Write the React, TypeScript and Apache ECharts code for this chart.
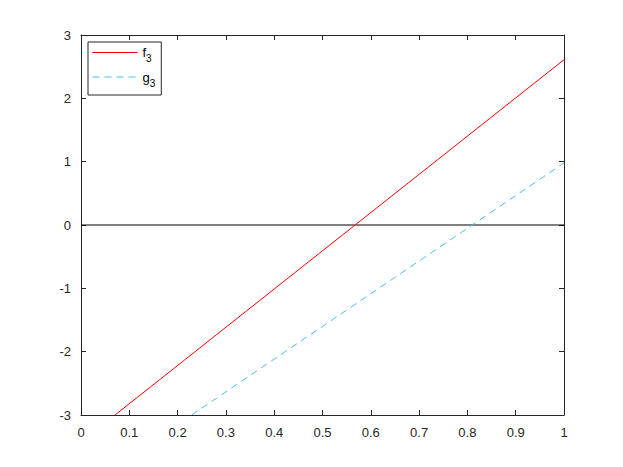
import React, { useEffect, useRef } from "react";
import * as echarts from "echarts";

const seriesNames = ["f3", "g3"];
// endpoints (clipped at the axes box)
const f3Points: [number, number][] = [
  [0.0704, -3],
  [1, 2.61],
];
const g3Points: [number, number][] = [
  [0.229, -3],
  [1, 0.98],
];
const zeroLine: [number, number][] = [
  [0, 0],
  [1, 0],
];
const xTicks = [0, 0.1, 0.2, 0.3, 0.4, 0.5, 0.6, 0.7, 0.8, 0.9, 1];
const yTicks = [-3, -2, -1, 0, 1, 2, 3];

const AX = "#262626";
const FONT = "Liberation Sans, Arial, Helvetica, sans-serif";

export default function App() {
  const ref = useRef<HTMLDivElement>(null);
  useEffect(() => {
    if (!ref.current) return;
    const chart = echarts.init(ref.current, undefined, { renderer: "svg" });
    const axisCommon = {
      type: "value" as const,
      axisLine: { show: true, onZero: false, lineStyle: { color: AX, width: 1 } },
      axisTick: { show: true, inside: true, length: 5, lineStyle: { color: AX } },
      splitLine: { show: false },
    };
    const labelStyle = { color: AX, fontSize: 13, fontFamily: FONT };
    chart.setOption({
      animation: false,
      backgroundColor: "#ffffff",
      textStyle: { fontFamily: FONT },
      grid: { left: 81, right: 59, top: 35, bottom: 52, containLabel: false },
      xAxis: [
        {
          ...axisCommon,
          position: "bottom",
          min: xTicks[0],
          max: xTicks[xTicks.length - 1],
          interval: 0.1,
          axisLabel: {
            ...labelStyle,
            margin: 11,
            formatter: (v: number) => String(Math.round(v * 10) / 10),
          },
        },
        {
          ...axisCommon,
          position: "top",
          min: xTicks[0],
          max: xTicks[xTicks.length - 1],
          interval: 0.1,
          axisLabel: { show: false },
        },
      ],
      yAxis: [
        {
          ...axisCommon,
          position: "left",
          min: yTicks[0],
          max: yTicks[yTicks.length - 1],
          interval: 1,
          axisLabel: { ...labelStyle, margin: 10 },
        },
        {
          ...axisCommon,
          position: "right",
          min: yTicks[0],
          max: yTicks[yTicks.length - 1],
          interval: 1,
          axisLabel: { show: false },
        },
      ],
      legend: {
        data: seriesNames,
        orient: "vertical",
        left: 88,
        top: 42,
        backgroundColor: "#ffffff",
        borderColor: AX,
        borderWidth: 1,
        borderRadius: 0,
        padding: [4, 6, 7, 4],
        itemGap: 7,
        itemWidth: 45,
        itemHeight: 16,
        itemStyle: { opacity: 0 },
        lineStyle: { width: 1 },
        textStyle: {
          color: "#000",
          fontFamily: FONT,
          fontSize: 13,
          rich: {
            a: { fontSize: 13, fontFamily: FONT, color: "#000" },
            b: { fontSize: 10, fontFamily: FONT, color: "#000", padding: [12, 0, 0, 0] },
          },
        },
        formatter: (name: string) => `{a|${name.charAt(0)}}{b|${name.slice(1)}}`,
      },
      series: [
        {
          name: "zero",
          type: "line",
          data: zeroLine,
          symbol: "none",
          lineStyle: { color: "#000000", width: 1 },
          silent: true,
        },
        {
          name: "f3",
          type: "line",
          data: f3Points,
          symbol: "none",
          color: "#ff0000",
          lineStyle: { color: "#ff0000", width: 1 },
        },
        {
          name: "g3",
          type: "line",
          data: g3Points,
          symbol: "none",
          color: "#4dbeee",
          lineStyle: { color: "#4dbeee", width: 1, type: [7, 5] },
        },
      ],
    });
    return () => chart.dispose();
  }, []);
  return <div ref={ref} style={{ width: 623, height: 467, position: "absolute", left: 0, top: 0 }} />;
}
